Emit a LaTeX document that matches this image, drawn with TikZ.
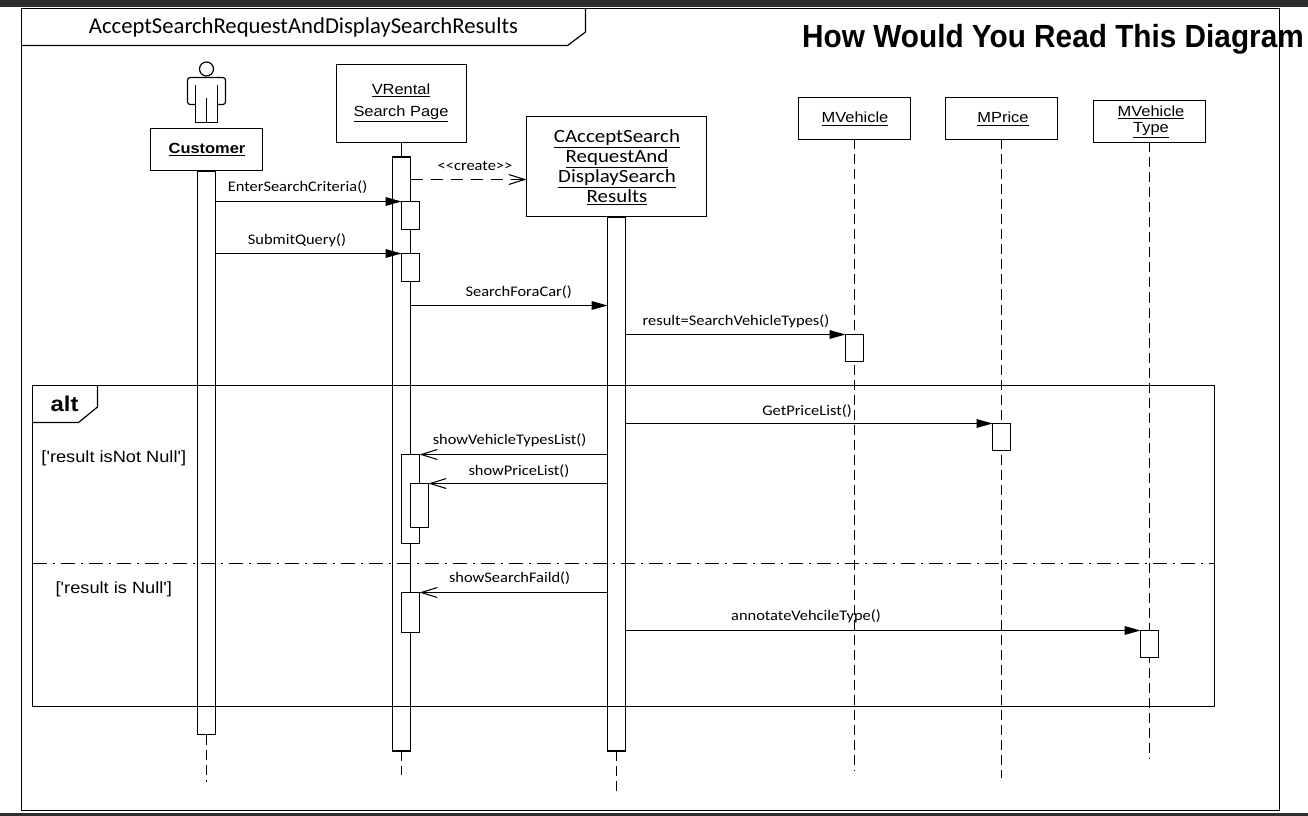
\documentclass[tikz,border=0pt]{standalone}
\usepackage{fontspec}
\usetikzlibrary{arrows.meta}
\setmainfont{Liberation Sans}
\newfontfamily\widefont[FakeStretch=1.12]{Liberation Sans}
\newfontfamily\headfont[FakeStretch=0.93]{Liberation Sans}
\newfontfamily\calfont{Carlito}
\newfontfamily\msgfont[FakeStretch=1.12]{Carlito}
\newcommand{\px}{0.75pt}
\tikzset{
  objbox/.style={draw, line width=0.9pt, fill=white, inner sep=0pt, outer sep=0pt},
  actbar/.style={draw, line width=0.9pt, fill=white, inner sep=0pt, outer sep=0pt, minimum width=18*\px},
  lifeline/.style={line width=0.9pt, dash pattern=on 7.5pt off 3.75pt},
  frameline/.style={line width=0.9pt},
  msgcall/.style={line width=0.9pt, -{Triangle[length=12pt,width=6.5pt]}},
  msgback/.style={line width=0.9pt, -{Straight Barb[length=12pt,width=7.5pt,line width=0.8pt]}},
  msgcreate/.style={line width=0.9pt, dash pattern=on 9pt off 6pt, -{Straight Barb[length=12pt,width=7.5pt,line width=0.8pt]}},
  msglabel/.style={inner sep=0pt, font=\msgfont\fontsize{11}{13}\selectfont},
  boxlabel/.style={inner sep=0pt, align=center, font=\widefont\fontsize{11}{16.5}\selectfont},
  guardlabel/.style={inner sep=0pt, font=\widefont\fontsize{12.2}{14}\selectfont}
}
\begin{document}
\begin{tikzpicture}[x=0.75pt,y=-0.75pt]
    \useasboundingbox (0,0) rectangle (1308,816);

    % Screen edges
    \fill [black!82] (0,0) rectangle (1308,7);
    \fill [black!82] (0,813) rectangle (1308,816);

    % Objects
    \node [objbox, minimum width=112*\px, minimum height=42*\px] (customerbox) at (206.5,149.5) {};
    \node [objbox, minimum width=130*\px, minimum height=78*\px] (rentalbox) at (401.5,103.5) {};
    \node [objbox, minimum width=180*\px, minimum height=100*\px] (controlbox) at (616.5,166.5) {};
    \node [objbox, minimum width=112*\px, minimum height=42*\px] (vehiclebox) at (854.5,118.5) {};
    \node [objbox, minimum width=112*\px, minimum height=42*\px] (pricebox) at (1001.5,118.5) {};
    \node [objbox, minimum width=112*\px, minimum height=42*\px] (typebox) at (1149.5,121.5) {};

    % Object names
    \node [boxlabel] (customerlabel) at (207,150) {\textbf{\underline{Customer}}};
    \node [boxlabel] (rentallabel) at (401,103) {\underline{VRental}\\\underline{Search Page}};
    \node [inner sep=0pt, align=center, font=\msgfont\fontsize{14}{15}\selectfont] (controllabel) at (617,167) {\underline{CAcceptSearch}\\\underline{RequestAnd}\\\underline{DisplaySearch}\\\underline{Results}};
    \node [boxlabel] (vehiclelabel) at (855,119) {\underline{MVehicle}};
    \node [boxlabel] (pricelabel) at (1003,119) {\underline{MPrice}};
    \node [boxlabel, font=\widefont\fontsize{11}{12}\selectfont] (typelabel) at (1151,122) {\underline{MVehicle}\\\underline{Type}};

    % Actor
    \draw [line width=0.9pt] (206.5,69) circle (7);
    \draw [line width=0.9pt, rounded corners=2pt] (195.5,104.5) -- (187.5,104.5) -- (187.5,77.5) -- (225.5,77.5) -- (225.5,104.5) -- (217.5,104.5);
    \draw [line width=0.9pt] (195.5,85) -- (195.5,122.5) -- (217.5,122.5) -- (217.5,85);
    \draw [line width=0.9pt] (206.5,98) -- (206.5,122.5);

    % Lifeline ends
    \coordinate (customerend) at (206.5,782);
    \coordinate (rentalend) at (401.5,775);
    \coordinate (controlend) at (616.5,791);
    \coordinate (vehicleend) at (854.5,770);
    \coordinate (priceend) at (1001.5,778);
    \coordinate (typeend) at (1149.5,758);

    % Lifelines
    \draw [lifeline] (vehiclebox.south) -- (vehicleend);
    \draw [lifeline] (pricebox.south) -- (priceend);
    \draw [lifeline] (typebox.south) -- (typeend);

    % Long bars
    \node [actbar, minimum height=563*\px] (customerbar) at (206.5,453) {};
    \node [actbar, minimum height=594*\px] (rentalbar) at (401.5,454) {};
    \node [actbar, minimum height=534*\px] (controlbar) at (616.5,484) {};
    \draw [frameline] (rentalbox.south) -- (rentalbar.north);
    \draw [lifeline] (customerbar.south) -- (customerend);
    \draw [lifeline] (rentalbar.south) -- (rentalend);
    \draw [lifeline] (controlbar.south) -- (controlend);

    % Short bars
    \node [actbar, minimum height=28*\px] (enterbar) at (410.5,215.5) {};
    \node [actbar, minimum height=28*\px] (submitbar) at (410.5,267.5) {};
    \node [actbar, minimum height=89*\px] (listbar) at (410.5,499) {};
    \node [actbar, minimum height=44*\px] (pricelistbar) at (419.5,505.5) {};
    \node [actbar, minimum height=40*\px] (failbar) at (410.5,612.5) {};
    \node [actbar, minimum height=27*\px] (vehiclebar) at (854.5,348) {};
    \node [actbar, minimum height=27*\px] (pricebar) at (1001.5,437) {};
    \node [actbar, minimum height=27*\px] (typebar) at (1149.5,644) {};

    % Outer frame
    \draw [frameline] (21.5,8.5) rectangle (1279.5,810.5);
    \draw [frameline] (585.5,8.5) -- (585.5,32) -- (567.5,45.5) -- (21.5,45.5);
    \node [inner sep=0pt, font=\calfont\fontsize{17}{19}\selectfont] (titlelabel) at (303.5,27.5) {AcceptSearchRequestAndDisplaySearchResults};
    \node [inner sep=0pt, font=\headfont\bfseries\fontsize{24}{26}\selectfont] (headlabel) at (1053,39) {How Would You Read This Diagram};

    % Alt frame
    \draw [frameline] (32.5,385.5) rectangle (1214.5,706.5);
    \draw [frameline] (97.5,385.5) -- (97.5,407) -- (78.5,422.5) -- (32.5,422.5);
    \draw [line width=0.8pt, dash pattern=on 10.5pt off 4.5pt on 1.5pt off 4.5pt] (32.5,563.5) -- (1214.5,563.5);
    \node [inner sep=0pt, font=\widefont\bfseries\fontsize{16}{18}\selectfont] (altlabel) at (64.6,404) {alt};
    \node [guardlabel] (notnulllabel) at (113.8,458) {['result isNot Null']};
    \node [guardlabel] (nulllabel) at (113.8,589) {['result is Null']};

    % Messages
    \coordinate (creatept) at (410.5,179.5);
    \coordinate (searchpt) at (410.5,305.5);
    \draw [msgcreate] (creatept) -- (controlbox.west |- creatept);
    \draw [msgcall] (customerbar.east |- enterbar.north) -- (enterbar.north west);
    \draw [msgcall] (customerbar.east |- submitbar.north) -- (submitbar.north west);
    \draw [msgcall] (searchpt) -- (controlbar.west |- searchpt);
    \draw [msgcall] (controlbar.east |- vehiclebar.north) -- (vehiclebar.north west);
    \draw [msgcall] (controlbar.east |- pricebar.north) -- (pricebar.north west);
    \draw [msgcall] (controlbar.east |- typebar.north) -- (typebar.north west);
    \draw [msgback] (controlbar.west |- listbar.north) -- (listbar.north east);
    \draw [msgback] (controlbar.west |- pricelistbar.north) -- (pricelistbar.north east);
    \draw [msgback] (controlbar.west |- failbar.north) -- (failbar.north east);

    % Message labels
    \node [msglabel] (createlabel) at (475,165.5) {<{}<create>{}>};
    \node [msglabel] (enterlabel) at (297.5,187.5) {EnterSearchCriteria()};
    \node [msglabel] (submitlabel) at (297,240.5) {SubmitQuery()};
    \node [msglabel] (searchlabel) at (518.7,292) {SearchForaCar()};
    \node [msglabel] (resultlabel) at (736,321) {result=SearchVehicleTypes()};
    \node [msglabel] (getpricelabel) at (807,411) {GetPriceList()};
    \node [msglabel] (showtypeslabel) at (509.6,440.5) {showVehicleTypesList()};
    \node [msglabel] (showpricelabel) at (519,471) {showPriceList()};
    \node [msglabel] (showfaillabel) at (509.6,578.5) {showSearchFaild()};
    \node [msglabel] (annotatelabel) at (806,616) {annotateVehcileType()};
\end{tikzpicture}
\end{document}
